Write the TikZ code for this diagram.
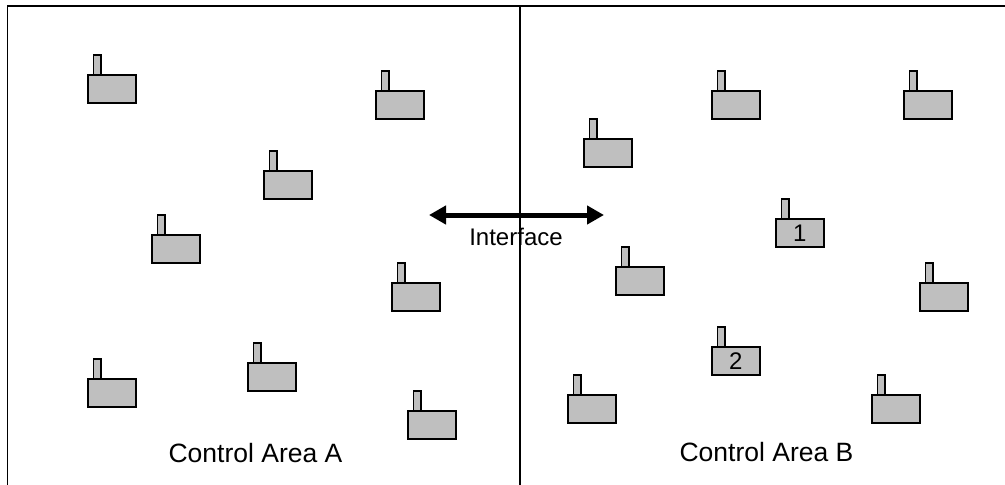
\documentclass[tikz,border=0pt]{standalone}
\usepackage{fontspec}
\setmainfont{Liberation Sans}
\usetikzlibrary{arrows.meta}
\tikzset{font=\fontsize{24}{28}\selectfont}

\begin{document}
\begin{tikzpicture}[x=1pt, y=-1pt]
	\tikzstyle{plant}=[draw=black, line width=1.8pt, fill=black!25, inner sep=0pt, minimum width=48pt, minimum height=27.5pt]
	\tikzstyle{stack}=[draw=black, line width=1.8pt, fill=black!25, inner sep=0pt, minimum width=7.5pt, minimum height=20pt]
	\useasboundingbox (0, 0) rectangle (1005, 485);

	% frame and border between the areas
	\draw [line width=1.8pt] (7.5, 485) -- (7.5, 6) -- (1005, 6);
	\draw [line width=1.8pt] (520, 6) -- (520, 485);

	\begin{scope}[xshift=-0.2pt]
		% area A
		\node[plant] (a1) at (112, 89) {};
		\node[stack] (a1s) at (97.5, 65) {};
		\node[plant] (a2) at (400, 105) {};
		\node[stack] (a2s) at (385.5, 81) {};
		\node[plant] (a3) at (288, 185) {};
		\node[stack] (a3s) at (273.5, 161) {};
		\node[plant] (a4) at (176, 249) {};
		\node[stack] (a4s) at (161.5, 225) {};
		\node[plant] (a5) at (416, 297) {};
		\node[stack] (a5s) at (401.5, 273) {};
		\node[plant] (a6) at (112, 393) {};
		\node[stack] (a6s) at (97.5, 369) {};
		\node[plant] (a7) at (272, 377) {};
		\node[stack] (a7s) at (257.5, 353) {};
		\node[plant] (a8) at (432, 425) {};
		\node[stack] (a8s) at (417.5, 401) {};

		% area B
		\node[plant] (b1) at (608, 153) {};
		\node[stack] (b1s) at (593.5, 129) {};
		\node[plant] (b2) at (736, 105) {};
		\node[stack] (b2s) at (721.5, 81) {};
		\node[plant] (b3) at (928, 105) {};
		\node[stack] (b3s) at (913.5, 81) {};
		\node[plant] (b4) at (800, 233) {1};
		\node[stack] (b4s) at (785.5, 209) {};
		\node[plant] (b5) at (640, 281) {};
		\node[stack] (b5s) at (625.5, 257) {};
		\node[plant] (b6) at (944, 297) {};
		\node[stack] (b6s) at (929.5, 273) {};
		\node[plant] (b7) at (736, 361) {2};
		\node[stack] (b7s) at (721.5, 337) {};
		\node[plant] (b8) at (592, 409) {};
		\node[stack] (b8s) at (577.5, 385) {};
		\node[plant] (b9) at (896, 409) {};
		\node[stack] (b9s) at (881.5, 385) {};
	\end{scope}

	% interface arrow
	\coordinate (ifl) at (429, 215);
	\coordinate (ifr) at (604, 215);
	\draw [{Triangle[length=17pt, width=18pt]}-{Triangle[length=17pt, width=18pt]}, line width=5pt] (ifl) -- (ifr);
	\node (iface) at (516, 236.5) {Interface};

	\node[font=\fontsize{26.5}{30}\selectfont] (areaa) at (255.5, 453) {Control Area A};
	\node[font=\fontsize{26.5}{30}\selectfont] (areab) at (766.5, 452) {Control Area B};
\end{tikzpicture}
\end{document}
